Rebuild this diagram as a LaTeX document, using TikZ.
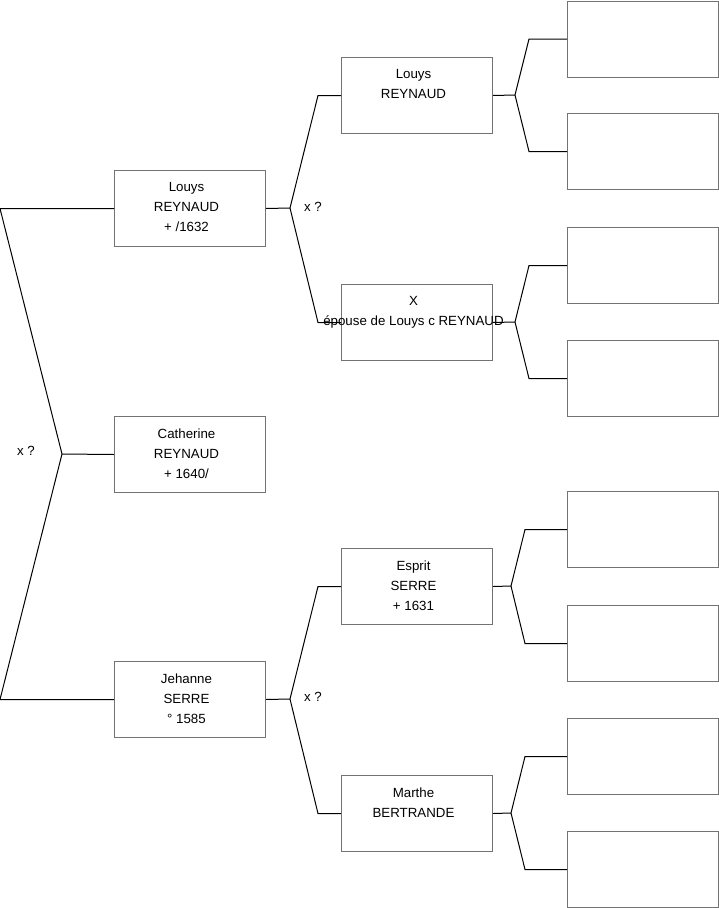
\documentclass[tikz,border=0pt]{standalone}
\usepackage{fontspec}
\setmainfont{Liberation Sans}
\usetikzlibrary{
    calc,
    positioning
}
\tikzset{
    box/.style={draw=black!55,line width=1pt,minimum width=151,minimum height=76,inner sep=0,anchor=north west},
    names/.style={anchor=north,align=center,inner sep=0,font=\fontsize{13.3}{20}\selectfont,yshift=-12.2,xshift=-3.5},
    marriage/.style={inner sep=0,font=\fontsize{13.3}{20}\selectfont},
    link/.style={line width=1pt}
}

\begin{document}
\begin{tikzpicture}[x=1pt,y=-1pt]
\useasboundingbox (0,0) rectangle (719,908);
%\draw [help lines,step=50](0,0) grid (719,908);
% first and second generation
\node [box] (cat) at (114,416) {};
\node [box] (pere) at (114,170) {};
\node [box] (mere) at (114,661) {};
% third generation
\node [box] (pp) at (341,57) {};
\node [box] (pm) at (341,284) {};
\node [box] (mp) at (341,548) {};
\node [box] (mm) at (341,775) {};
% fourth generation, empty
\node [box] (ppp) at (567,0.5) {};
\node [box] (ppm) at (567,113) {};
\node [box] (pmp) at (567,227) {};
\node [box] (pmm) at (567,340) {};
\node [box] (mpp) at (567,491) {};
\node [box] (mpm) at (567,605) {};
\node [box] (mmp) at (567,718) {};
\node [box] (mmm) at (567,831) {};
% junctions
\coordinate (j1) at (62,454);
\coordinate (j2) at (290,208);
\coordinate (j3) at (290,699);
\coordinate (j4) at (515,95);
\coordinate (j5) at (515,322);
\coordinate (j6) at (511,586);
\coordinate (j7) at (511,813);
\draw [link] (cat.west) -- (j1);
\draw [link] (pere.west) -- ++(-114,0) -- (j1) -- ($(mere.west)+(-114,0)$) -- (mere.west);
\draw [link] (pere.east) -- (j2);
\draw [link] (pp.west) -- ++(-23,0) -- (j2) -- ($(pm.west)+(-23,0)$) -- (pm.west);
\draw [link] (mere.east) -- (j3);
\draw [link] (mp.west) -- ++(-23,0) -- (j3) -- ($(mm.west)+(-23,0)$) -- (mm.west);
\draw [link] (pp.east) -- (j4);
\draw [link] (ppp.west) -- ++(-38,0) -- (j4) -- ($(ppm.west)+(-38,0)$) -- (ppm.west);
\draw [link] (pm.east) -- (j5);
\draw [link] (pmp.west) -- ++(-38,0) -- (j5) -- ($(pmm.west)+(-38,0)$) -- (pmm.west);
\draw [link] (mp.east) -- (j6);
\draw [link] (mpp.west) -- ++(-42,0) -- (j6) -- ($(mpm.west)+(-42,0)$) -- (mpm.west);
\draw [link] (mm.east) -- (j7);
\draw [link] (mmp.west) -- ++(-42,0) -- (j7) -- ($(mmm.west)+(-42,0)$) -- (mmm.west);
% names
\node [names] (tcat) at (cat.north) {Catherine\\REYNAUD\\+ 1640/};
\node [names] (tpere) at (pere.north) {Louys\\REYNAUD\\+ /1632};
\node [names] (tmere) at (mere.north) {Jehanne\\SERRE\\° 1585};
\node [names] (tpp) at (pp.north) {Louys\\REYNAUD};
\node [names] (tpm) at (pm.north) {X\\épouse de Louys c REYNAUD};
\node [names] (tmp) at (mp.north) {Esprit\\SERRE\\+ 1631};
\node [names] (tmm) at (mm.north) {Marthe\\BERTRANDE};
% marriages
\node [marriage] (m1) at (26,451) {x ?};
\node [marriage] (m2) at (313,207) {x ?};
\node [marriage] (m3) at (313,697) {x ?};
\end{tikzpicture}
\end{document}
